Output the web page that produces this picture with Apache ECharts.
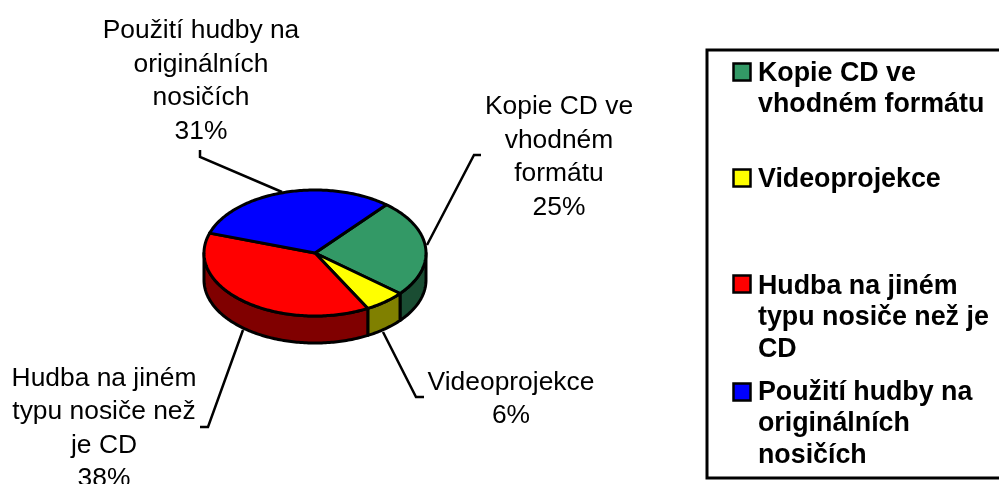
<!DOCTYPE html>
<html>
<head>
<meta charset="utf-8">
<style>
  html, body { margin: 0; padding: 0; background: #fff; }
  #chart { width: 999px; height: 484px; }
</style>
<script src="https://cdn.jsdelivr.net/npm/echarts@6/dist/echarts.min.js"></script>
</head>
<body>
<div id="chart"></div>
<script>
// data, clockwise from the green slice
const values = [25, 6, 38, 31];
const topColors = ['#339966', '#ffff00', '#ff0000', '#0000ff'];
const sideColors = ['#1a4d33', '#808000', '#800000', '#000080'];
const labelLines = [
  ['Kopie CD ve', 'vhodném', 'formátu'],
  ['Videoprojekce'],
  ['Hudba na jiném', 'typu nosiče než', 'je CD'],
  ['Použití hudby na', 'originálních', 'nosičích']
];
const legendLines = [
  ['Kopie CD ve', 'vhodném formátu'],
  ['Videoprojekce'],
  ['Hudba na jiném', 'typu nosiče než je', 'CD'],
  ['Použití hudby na', 'originálních', 'nosičích']
];

// pie geometry
const cx = 315, cy = 253, rx = 111, ry = 63, depth = 27, startAngle = 40;
const FONT = '"Liberation Sans", Arial, sans-serif';

const total = values.reduce((a, b) => a + b, 0);
let acc = startAngle;
const slices = values.map((v) => {
  const s = { from: acc, to: acc + v / total * 360 };
  acc = s.to;
  return s;
});

function pt(deg, dy) {
  const r = deg * Math.PI / 180;
  return [cx + rx * Math.sin(r), cy - ry * Math.cos(r) + (dy || 0)];
}
function arc(from, to, dy) {
  const out = [];
  const n = Math.max(2, Math.ceil(Math.abs(to - from)));
  for (let i = 0; i <= n; i++) out.push(pt(from + (to - from) * i / n, dy));
  return out;
}

function renderSide(params) {
  const s = slices[params.dataIndex];
  const a = Math.max(s.from, 90), b = Math.min(s.to, 270);
  if (b <= a) return null;
  return {
    type: 'polygon',
    shape: { points: arc(a, b, 0).concat(arc(b, a, depth)) },
    style: { fill: sideColors[params.dataIndex], stroke: '#000', lineWidth: 3, lineJoin: 'round' }
  };
}
function renderTop(params) {
  const s = slices[params.dataIndex];
  return {
    type: 'polygon',
    shape: { points: [[cx, cy]].concat(arc(s.from, s.to, 0)) },
    style: { fill: topColors[params.dataIndex], stroke: '#000', lineWidth: 3, lineJoin: 'round' }
  };
}

// leader lines and label placement, same order as the data
const leaders = [
  [[427, 245], [474, 155], [481, 155]],
  [[383, 332], [416, 397], [424, 397]],
  [[243, 330], [208, 427], [200, 427]],
  [[282, 192], [200, 157], [200, 150]]
];
const labelCenters = [[559, 157], [511, 399], [104, 428.5], [201, 81]];
const labelLH = 33.5;

const graphics = [];
leaders.forEach((l) => {
  graphics.push({ type: 'polyline', z: 1, shape: { points: l }, style: { stroke: '#000', lineWidth: 2.5, fill: null } });
});
labelLines.forEach((lines, i) => {
  graphics.push({
    type: 'text', z: 5, x: labelCenters[i][0], y: labelCenters[i][1],
    style: {
      text: lines.concat(values[i] + '%').join('\n'),
      font: '26.4px ' + FONT, fill: '#000', align: 'center', verticalAlign: 'middle', lineHeight: labelLH
    }
  });
});

// legend box, its right side runs off the page
graphics.push({ type: 'rect', z: 1, shape: { x: 707, y: 50, width: 320, height: 428 }, style: { fill: '#fff', stroke: '#000', lineWidth: 3 } });
const swatchY = [63.5, 169.5, 275.5, 383.5];
const legendTextY = [73.5, 179.5, 286.5, 392.5];
const legendLH = 31.5;
legendLines.forEach((lines, i) => {
  graphics.push({ type: 'rect', z: 5, shape: { x: 733.5, y: swatchY[i], width: 17, height: 17 }, style: { fill: topColors[i], stroke: '#000', lineWidth: 2.5 } });
  graphics.push({
    type: 'text', z: 5, x: 758, y: legendTextY[i] - legendLH / 2,
    style: {
      text: lines.join('\n'),
      font: 'bold 26.8px ' + FONT, fill: '#000', align: 'left', verticalAlign: 'top', lineHeight: legendLH
    }
  });
});

const chart = echarts.init(document.getElementById('chart'));
chart.setOption({
  animation: false,
  backgroundColor: '#fff',
  graphic: graphics,
  series: [
    { type: 'custom', coordinateSystem: 'none', z: 2, silent: true, renderItem: renderSide, data: values.map((v, i) => [i, v]) },
    { type: 'custom', coordinateSystem: 'none', z: 3, silent: true, renderItem: renderTop, data: values.map((v, i) => [i, v]) }
  ]
});
</script>
</body>
</html>
